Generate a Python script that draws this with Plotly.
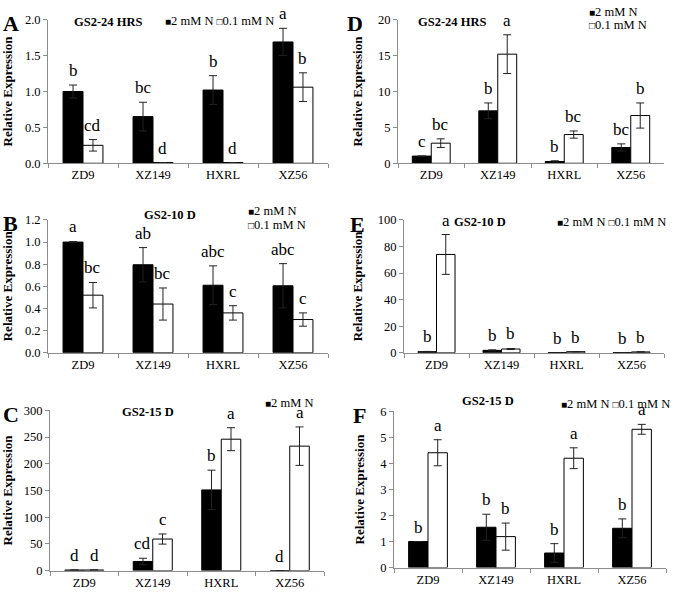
import plotly.graph_objects as go

W, H = 677, 600
cats = ["ZD9", "XZ149", "HXRL", "XZ56"]
hi_name = "2 mM N"
lo_name = "0.1 mM N"

# Panel A: GS2-24 HRS
a_hi = [1.0, 0.65, 1.02, 1.69]
a_hi_err = [0.09, 0.2, 0.2, 0.19]
a_lo = [0.25, 0.01, 0.01, 1.06]
a_lo_err = [0.08, 0.0, 0.0, 0.2]
a_hi_let = ["b", "bc", "b", "a"]
a_lo_let = ["cd", "d", "d", "b"]

# Panel B: GS2-10 D
b_hi = [1.0, 0.795, 0.61, 0.605]
b_hi_err = [0.005, 0.155, 0.175, 0.2]
b_lo = [0.52, 0.44, 0.36, 0.30]
b_lo_err = [0.115, 0.145, 0.065, 0.06]
b_hi_let = ["a", "ab", "abc", "abc"]
b_lo_let = ["bc", "bc", "c", "c"]

# Panel C: GS2-15 D
c_hi = [1.0, 17.0, 151.0, 0.0]
c_hi_err = [0.0, 6.0, 37.0, 0.0]
c_lo = [1.0, 59.0, 246.0, 233.0]
c_lo_err = [0.0, 9.5, 21.5, 36.0]
c_hi_let = ["d", "cd", "b", "d"]
c_lo_let = ["d", "c", "a", "a"]

# Panel D: GS2-24 HRS
d_hi = [1.0, 7.3, 0.25, 2.2]
d_hi_err = [0.0, 1.1, 0.1, 0.5]
d_lo = [2.8, 15.2, 4.0, 6.65]
d_lo_err = [0.6, 2.7, 0.5, 1.75]
d_hi_let = ["c", "b", "b", "bc"]
d_lo_let = ["bc", "a", "bc", "b"]

# Panel E: GS2-10 D
e_hi = [0.8, 1.8, 0.1, 0.1]
e_hi_err = [0.2, 0.4, 0.0, 0.0]
e_lo = [74.0, 2.8, 0.8, 0.6]
e_lo_err = [15.0, 0.4, 0.1, 0.1]
e_hi_let = ["b", "b", "b", "b"]
e_lo_let = ["a", "b", "b", "b"]

# Panel F: GS2-15 D
f_hi = [1.0, 1.55, 0.56, 1.51]
f_hi_err = [0.0, 0.5, 0.36, 0.36]
f_lo = [4.41, 1.19, 4.2, 5.31]
f_lo_err = [0.5, 0.52, 0.4, 0.19]
f_hi_let = ["b", "b", "b", "b"]
f_lo_let = ["a", "b", "a", "a"]

SERIF = "Liberation Serif"
AX = "#8c8c8c"
BARGAP = 0.43
SQ_B = "<span style='font-size:10px'>■</span>"
SQ_W = "<span style='font-size:10px'>□</span>"

panels = [
    dict(tag="A", title="GS2-24 HRS", hi=a_hi, hie=a_hi_err, lo=a_lo, loe=a_lo_err,
         hl=a_hi_let, ll=a_lo_let, px=(48, 328), py=(13, 160), rng=[0, 2], dtick=0.5, fmt=".1f",
         tpos=(108, 15), lpos=(11, 17),
         legend=[(f"{SQ_B}{hi_name} {SQ_W}{lo_name}", 163, 14, "left")]),
    dict(tag="B", title="GS2-10 D", hi=b_hi, hie=b_hi_err, lo=b_lo, loe=b_lo_err,
         hl=b_hi_let, ll=b_lo_let, px=(48, 328), py=(218, 354), rng=[0, 1.2], dtick=0.2, fmt=".1f",
         tpos=(170, 213), lpos=(11, 222),
         legend=[(f"{SQ_B}{hi_name}", 246, 209, "left"), (f"{SQ_W}{lo_name}", 246, 223, "left")]),
    dict(tag="C", title="GS2-15 D", hi=c_hi, hie=c_hi_err, lo=c_lo, loe=c_lo_err,
         hl=c_hi_let, ll=c_lo_let, px=(50, 324), py=(413, 577), rng=[0, 300], dtick=50, fmt="d",
         tpos=(148, 415), lpos=(11, 417),
         legend=[(f"{SQ_B}{hi_name}", 263, 405, "left")]),
    dict(tag="D", title="GS2-24 HRS", hi=d_hi, hie=d_hi_err, lo=d_lo, loe=d_lo_err,
         hl=d_hi_let, ll=d_lo_let, px=(398, 664), py=(13, 160), rng=[0, 20], dtick=5, fmt="d",
         tpos=(452, 15), lpos=(355, 17),
         legend=[(f"{SQ_B}{hi_name}", 587, 5, "left"), (f"{SQ_W}{lo_name}", 587, 18, "left")]),
    dict(tag="E", title="GS2-10 D", hi=e_hi, hie=e_hi_err, lo=e_lo, loe=e_lo_err,
         hl=e_hi_let, ll=e_lo_let, px=(404, 664), py=(218, 354), rng=[0, 100], dtick=20, fmt="d",
         tpos=(480, 220), lpos=(357, 223),
         legend=[(f"{SQ_B}{hi_name} {SQ_W}{lo_name}", 668, 220, "right")]),
    dict(tag="F", title="GS2-15 D", hi=f_hi, hie=f_hi_err, lo=f_lo, loe=f_lo_err,
         hl=f_hi_let, ll=f_lo_let, px=(394, 666), py=(414, 574), rng=[0, 6], dtick=1, fmt="d",
         tpos=(488, 403), lpos=(359, 418),
         legend=[(f"{SQ_B}{hi_name} {SQ_W}{lo_name}", 672, 406, "right")]),
]

fig = go.Figure()
annotations = []
layout = {}

for i, p in enumerate(panels, start=1):
    xa = "x" if i == 1 else f"x{i}"
    ya = "y" if i == 1 else f"y{i}"
    xk = "xaxis" if i == 1 else f"xaxis{i}"
    yk = "yaxis" if i == 1 else f"yaxis{i}"
    for vals, errs, color, name in [(p["hi"], p["hie"], "black", hi_name),
                                    (p["lo"], p["loe"], "white", lo_name)]:
        fig.add_trace(go.Bar(
            x=cats, y=vals, name=name, xaxis=xa, yaxis=ya, showlegend=False,
            marker=dict(color=color, line=dict(color="black", width=1)),
            error_y=dict(type="data", array=errs, visible=True, color="#222222",
                         thickness=1, width=4),
        ))
    x0, x1 = p["px"]
    y0, y1 = p["py"]
    layout[xk] = dict(
        domain=[x0 / W, x1 / W], anchor=ya, type="category",
        showline=True, linecolor=AX, linewidth=1, ticks="outside", tickson="boundaries",
        ticklen=4, tickcolor=AX, showgrid=False, zeroline=False,
        tickfont=dict(family=SERIF, size=12.5, color="black"),
    )
    layout[yk] = dict(
        domain=[1 - y1 / H, 1 - y0 / H], anchor=xa, range=p["rng"], dtick=p["dtick"],
        tickformat=p["fmt"], showline=True, linecolor=AX, linewidth=1, ticks="outside",
        ticklen=4, tickcolor=AX, showgrid=False, zeroline=False,
        tickfont=dict(family=SERIF, size=12.5, color="black"),
        title=dict(text="<b>Relative Expression</b>", font=dict(family=SERIF, size=13, color="black"),
                   standoff=12),
    )
    # significance letters
    bw = (x1 - x0) / len(cats) * (1 - BARGAP) / 2
    for vals, errs, lets, sh in [(p["hi"], p["hie"], p["hl"], -bw / 2),
                                 (p["lo"], p["loe"], p["ll"], bw / 2)]:
        for c, v, e, t in zip(cats, vals, errs, lets):
            annotations.append(dict(
                x=c, y=v + e, xref=xa, yref=ya, text=t, showarrow=False,
                xanchor="center", yanchor="bottom", xshift=sh, yshift=3,
                font=dict(family=SERIF, size=17, color="black"),
            ))
    # panel tag
    annotations.append(dict(x=p["lpos"][0] / W, y=1 - p["lpos"][1] / H, xref="paper", yref="paper",
                            text=f"<b>{p['tag']}</b>", showarrow=False, xanchor="center", yanchor="middle",
                            font=dict(family=SERIF, size=22, color="black")))
    # title
    annotations.append(dict(x=p["tpos"][0] / W, y=1 - p["tpos"][1] / H, xref="paper", yref="paper",
                            text=f"<b>{p['title']}</b>", showarrow=False, xanchor="center", yanchor="middle",
                            font=dict(family=SERIF, size=12.5, color="black")))
    # legend text
    for txt, lx, ly, anc in p["legend"]:
        annotations.append(dict(x=lx / W, y=1 - ly / H, xref="paper", yref="paper",
                                text=txt, showarrow=False, xanchor=anc, yanchor="middle",
                                font=dict(family=SERIF, size=12.5, color="black")))

fig.update_layout(
    width=W, height=H, margin=dict(l=0, r=0, t=0, b=0),
    paper_bgcolor="white", plot_bgcolor="white",
    barmode="group", bargap=BARGAP, bargroupgap=0,
    showlegend=False, annotations=annotations, **layout,
)

fig.write_html("out.html", config={"displayModeBar": False},
               post_script="document.body.style.margin='0';document.body.style.overflow='hidden';")
